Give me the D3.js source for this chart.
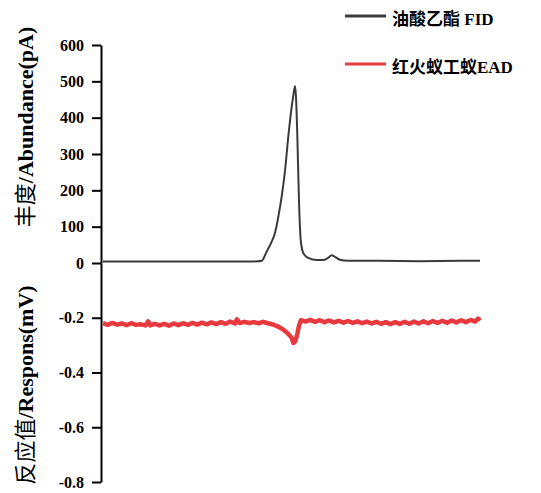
<!DOCTYPE html>
<html lang="zh">
<head>
<meta charset="UTF-8">
<script src="https://d3js.org/d3.v7.min.js"></script>
<title>油酸乙酯 FID / EAD</title>
<style>
  body { margin: 0; background: #fff; }
  svg { display: block; font-family: "Liberation Serif", "Times New Roman", "Noto Sans CJK SC", serif; }
  .axis path, .axis line { stroke: #000; stroke-width: 2px; }
  .axis text { font-size: 16px; font-weight: bold; fill: #000; }
</style>
</head>
<body>
<svg id="chart" width="541" height="493"></svg>
<script>
// retention time (min) and FID signal (pA)
const fidTime = [0, 2.5, 5.15, 7.27, 8.22, 8.42, 8.68, 8.95, 9.12, 9.30, 9.48, 9.66, 9.83, 10.01, 10.10, 10.19,
  10.24, 10.31, 10.40, 10.49, 10.63, 10.89, 11.34, 11.67, 11.94, 12.13, 12.31, 12.57, 13.0, 14.7, 16.8, 18.94, 20];
const fidValue = [4, 4, 4, 4, 4.5, 6, 31, 59, 82, 127, 183, 256, 348, 430, 462, 487,
  455, 348, 165, 63, 27, 14, 8, 8, 14, 21, 17, 9, 6, 6, 5, 6, 6];

// retention time (min) and EAD response (mV)
const eadTime = [0, 0.25, 0.5, 0.75, 1, 1.25, 1.5, 1.75, 2, 2.25, 2.4, 2.5, 2.75, 3, 3.25, 3.5, 3.75, 4, 4.25, 4.5, 4.75,
  5, 5.25, 5.5, 5.75, 6, 6.25, 6.5, 6.75, 7, 7.1, 7.25, 7.5, 7.75, 8, 8.25, 8.5, 8.75, 9, 9.25, 9.5, 9.75, 10, 10.1,
  10.2, 10.3, 10.4, 10.5, 10.75, 11, 11.25, 11.5, 11.75, 12, 12.25, 12.5, 12.75, 13, 13.25, 13.5, 13.75, 14, 14.25,
  14.5, 14.75, 15, 15.25, 15.5, 15.75, 16, 16.25, 16.5, 16.75, 17, 17.25, 17.5, 17.75, 18, 18.25, 18.5, 18.75, 19,
  19.25, 19.5, 19.75, 19.9, 20];
const eadValue = [-0.220, -0.226, -0.219, -0.225, -0.221, -0.227, -0.220, -0.226, -0.224, -0.228, -0.213, -0.228, -0.222,
  -0.228, -0.222, -0.229, -0.221, -0.227, -0.220, -0.226, -0.219, -0.225, -0.218, -0.224, -0.217, -0.223, -0.216,
  -0.222, -0.214, -0.221, -0.206, -0.219, -0.215, -0.219, -0.216, -0.220, -0.215, -0.220, -0.224, -0.231, -0.240,
  -0.254, -0.272, -0.292, -0.286, -0.262, -0.228, -0.209, -0.214, -0.208, -0.215, -0.209, -0.216, -0.210, -0.217,
  -0.211, -0.218, -0.212, -0.219, -0.213, -0.220, -0.214, -0.221, -0.215, -0.222, -0.216, -0.223, -0.216, -0.222,
  -0.215, -0.222, -0.214, -0.221, -0.213, -0.220, -0.212, -0.219, -0.211, -0.218, -0.210, -0.217, -0.209, -0.216,
  -0.208, -0.214, -0.203, -0.210];

const fidTicks = [0, 100, 200, 300, 400, 500, 600];
const eadTicks = [-0.2, -0.4, -0.6, -0.8];
const legendLabels = ["油酸乙酯 FID", "红火蚁工蚁EAD"];
const legendColors = ["#3a3a3a", "#e8393e"];

const svg = d3.select("#chart");
const axisX = 101;

const x = d3.scaleLinear().domain([0, 20]).range([axisX + 2, 480]);
const yFid = d3.scaleLinear().domain([0, 600]).range([263, 45]);
const yEad = d3.scaleLinear().domain([-0.8, 0]).range([482, 263]);

// axes (one continuous vertical line made of two scales)
svg.append("g").attr("class", "axis")
  .attr("transform", `translate(${axisX},0)`)
  .call(d3.axisLeft(yFid).tickValues(fidTicks).tickSize(9).tickSizeOuter(0).tickPadding(8))
  .attr("font-family", null).attr("font-size", null);

svg.append("g").attr("class", "axis")
  .attr("transform", `translate(${axisX},0)`)
  .call(d3.axisLeft(yEad).tickValues(eadTicks).tickSize(9).tickSizeOuter(0).tickPadding(8)
    .tickFormat(d => d.toFixed(1)))
  .attr("font-family", null).attr("font-size", null);

// traces
const fidData = fidTime.map((t, i) => [t, fidValue[i]]);
const eadData = eadTime.map((t, i) => [t, eadValue[i]]);

svg.append("path")
  .datum(eadData)
  .attr("fill", "none")
  .attr("stroke", legendColors[1])
  .attr("stroke-width", 4.5)
  .attr("stroke-linejoin", "round")
  .attr("d", d3.line().x(d => x(d[0])).y(d => yEad(d[1])));

svg.append("path")
  .datum(fidData)
  .attr("fill", "none")
  .attr("stroke", legendColors[0])
  .attr("stroke-width", 2)
  .attr("d", d3.line().curve(d3.curveMonotoneX).x(d => x(d[0])).y(d => yFid(d[1])));

// axis titles
const titles = [
  { cjk: "丰度", latin: "/Abundance(pA)", y: 127 },
  { cjk: "反应值", latin: "/Respons(mV)", y: 385 }
];
titles.forEach(t => {
  const txt = svg.append("text")
    .attr("transform", `translate(33,${t.y}) rotate(-90)`)
    .attr("text-anchor", "middle")
    .attr("font-size", 22)
    .attr("fill", "#000");
  txt.append("tspan").attr("font-weight", "normal").text(t.cjk);
  txt.append("tspan").attr("font-weight", "bold").text(t.latin);
});

// legend
const legend = svg.append("g");
legendLabels.forEach((label, i) => {
  const ly = 16 + i * 48;
  legend.append("line")
    .attr("x1", 345).attr("x2", 386)
    .attr("y1", ly).attr("y2", ly)
    .attr("stroke", legendColors[i])
    .attr("stroke-width", 3);
  legend.append("text")
    .attr("x", 392).attr("y", ly + 9)
    .attr("font-size", 17)
    .attr("font-weight", "bold")
    .attr("fill", "#000")
    .text(label);
});
</script>
</body>
</html>
